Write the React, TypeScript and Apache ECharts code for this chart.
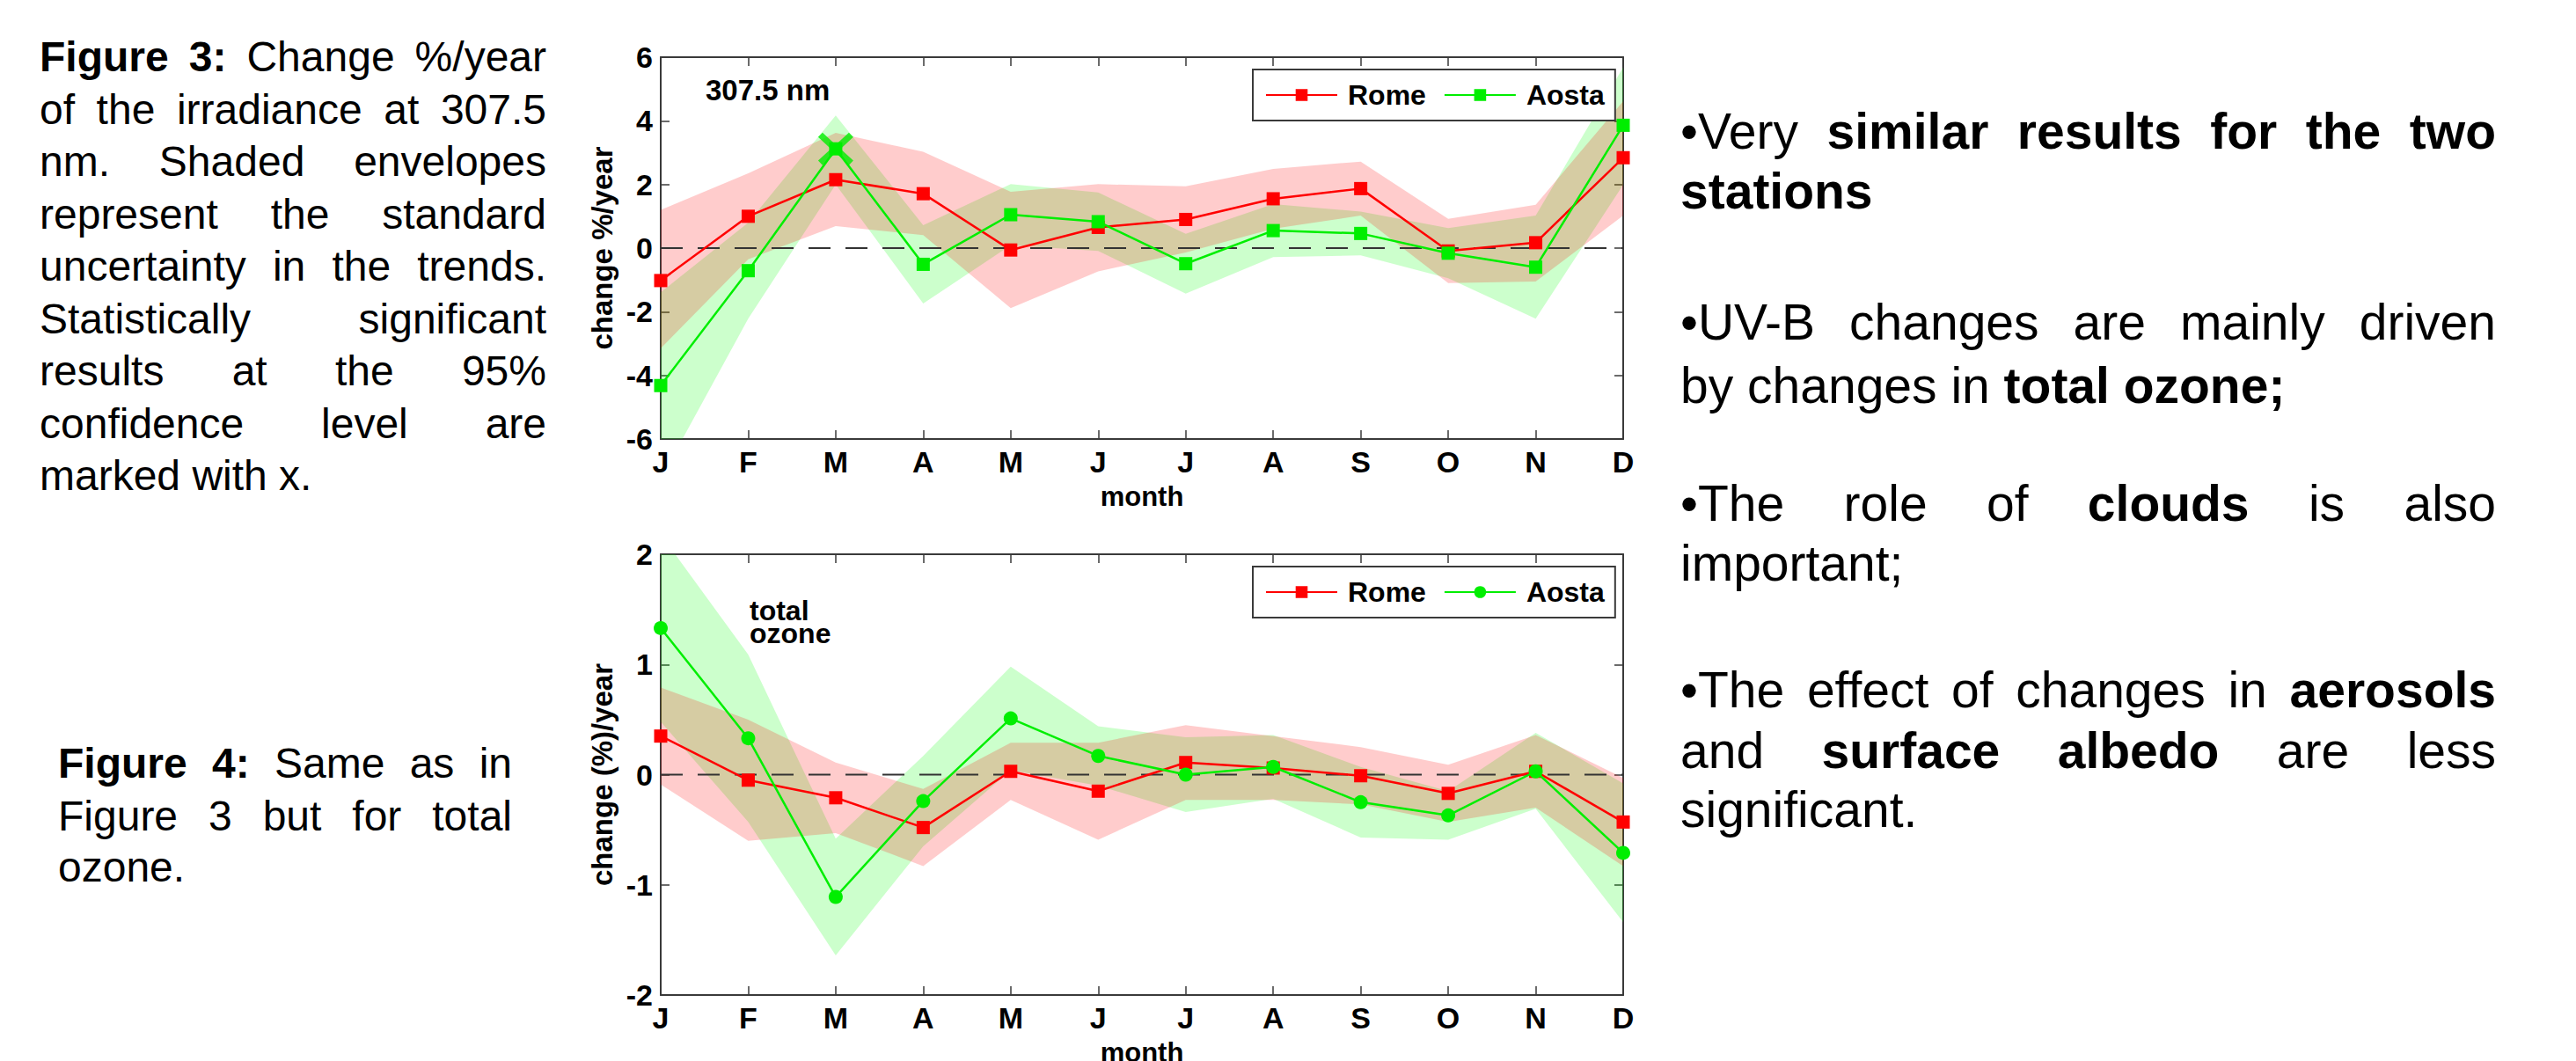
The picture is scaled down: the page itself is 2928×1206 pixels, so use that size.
import React, { useEffect, useRef } from 'react';
import * as echarts from 'echarts';

// ---------- data ----------
const months = ['J', 'F', 'M', 'A', 'M', 'J', 'J', 'A', 'S', 'O', 'N', 'D'];

// Figure 3: change %/year of irradiance at 307.5 nm
const romeUV = [-1.02, 1.0, 2.15, 1.71, -0.06, 0.65, 0.9, 1.55, 1.87, -0.09, 0.17, 2.84];
const romeUVLow = [-3.15, -0.35, 0.69, 0.41, -1.89, -0.73, -0.14, 0.61, 1.02, -1.1, -1.05, 1.02];
const romeUVHigh = [1.2, 2.35, 3.62, 3.03, 1.77, 2.01, 1.94, 2.49, 2.72, 0.92, 1.36, 4.62];
const aostaUV = [-4.32, -0.71, 3.12, -0.51, 1.05, 0.83, -0.49, 0.55, 0.46, -0.16, -0.6, 3.86];
const aostaUVLow = [-7.25, -2.22, 2.0, -1.74, 0.09, -0.09, -1.43, -0.28, -0.23, -0.95, -2.22, 1.99];
const aostaUVHigh = [-1.39, 0.8, 4.17, 0.72, 2.01, 1.75, 0.45, 1.38, 1.15, 0.63, 1.02, 5.68];
const aostaUVSignificant = [2]; // month indices marked with x

// Figure 4: change (%)/year of total ozone
const romeO3 = [0.35, -0.05, -0.21, -0.48, 0.03, -0.15, 0.11, 0.06, -0.01, -0.17, 0.03, -0.43];
const romeO3Low = [-0.09, -0.6, -0.53, -0.83, -0.23, -0.59, -0.23, -0.23, -0.27, -0.43, -0.3, -0.83];
const romeO3High = [0.79, 0.5, 0.11, -0.13, 0.29, 0.29, 0.45, 0.35, 0.25, 0.09, 0.36, -0.03];
const aostaO3 = [1.33, 0.33, -1.11, -0.24, 0.51, 0.17, 0.0, 0.07, -0.25, -0.37, 0.03, -0.71];
const aostaO3Low = [0.48, -0.43, -1.64, -0.65, 0.04, -0.1, -0.34, -0.22, -0.57, -0.59, -0.31, -1.34];
const aostaO3High = [2.18, 1.09, -0.58, 0.17, 0.98, 0.44, 0.34, 0.36, 0.07, -0.15, 0.38, -0.08];
const aostaO3Significant: number[] = [];

const zeroLevel = 0;

// ---------- styles ----------
const FONT = '"Liberation Sans", Arial, Helvetica, sans-serif';
const RED = '#ff0000';
const GREEN = '#00ee00';
const RED_BAND = 'rgba(255,0,0,0.2)';
const GREEN_BAND = 'rgba(0,255,0,0.2)';
const AXIS = '#3a3a3a';
const X_PATH = 'path://M0,5L5,0L20,13.5L35,0L40,5L25.5,18L40,31L35,36L20,22.5L5,36L0,31L14.5,18Z';

type Cfg = {
  yMin: number; yMax: number; yInterval: number; yName: string;
  rome: number[]; romeLo: number[]; romeHi: number[];
  aosta: number[]; aostaLo: number[]; aostaHi: number[];
  aostaSymbol: string; aostaSymbolSize: number; romeSymbolSize: number;
  sig: number[];
  gridTop: number; gridHeight: number; legendTop: number;
  graphic: any[];
};

function bandSeries(lo: number[], hi: number[], color: string) {
  return {
    type: 'custom',
    clip: true,
    silent: true,
    z: 1,
    data: [[0, lo[0]]],
    encode: { x: 0, y: 1 },
    renderItem: (_params: any, api: any) => {
      const pts: number[][] = [];
      for (let i = 0; i < hi.length; i++) pts.push(api.coord([i, hi[i]]));
      for (let i = lo.length - 1; i >= 0; i--) pts.push(api.coord([i, lo[i]]));
      return { type: 'polygon', shape: { points: pts }, style: { fill: color } };
    },
  };
}

function buildOption(c: Cfg) {
  const last = months.length - 1;
  const axisLine = { show: true, onZero: false, lineStyle: { color: AXIS, width: 2 } };
  const axisTick = { show: true, inside: true, length: 10, lineStyle: { color: AXIS, width: 1.5 } };
  const tickLabel = { color: '#000', fontSize: 34, fontWeight: 'bold', fontFamily: FONT };
  return {
    animation: false,
    grid: { left: 101, top: c.gridTop, width: 1094, height: c.gridHeight, containLabel: false, outerBoundsMode: 'none' },
    legend: {
      data: ['Rome', 'Aosta'],
      left: 774,
      top: c.legendTop,
      orient: 'horizontal',
      itemWidth: 81,
      itemHeight: 17,
      itemGap: 20,
      padding: [13, 12, 13, 14],
      borderColor: AXIS,
      borderWidth: 2,
      backgroundColor: '#fff',
      selectedMode: false,
      textStyle: { color: '#000', fontSize: 32, fontWeight: 'bold', fontFamily: FONT, padding: [0, 0, 0, 7] },
    },
    xAxis: [
      {
        type: 'value', min: 0, max: last, interval: 1, position: 'bottom',
        axisLine, axisTick, splitLine: { show: false },
        axisLabel: { ...tickLabel, margin: 9, showMinLabel: true, showMaxLabel: true, formatter: (v: number) => months[Math.round(v)] ?? '' },
        name: 'month', nameLocation: 'middle', nameGap: 50,
        nameTextStyle: { color: '#000', fontSize: 31, fontWeight: 'bold', fontFamily: FONT },
      },
      {
        type: 'value', min: 0, max: last, interval: 1, position: 'top',
        axisLine, axisTick, splitLine: { show: false }, axisLabel: { show: false },
      },
    ],
    yAxis: [
      {
        type: 'value', min: c.yMin, max: c.yMax, interval: c.yInterval, position: 'left',
        axisLine, axisTick, splitLine: { show: false },
        axisLabel: { ...tickLabel, margin: 9, showMinLabel: true, showMaxLabel: true },
        name: c.yName, nameLocation: 'middle', nameGap: 50, nameRotate: 90,
        nameTextStyle: { color: '#000', fontSize: 33, fontWeight: 'bold', fontFamily: FONT },
      },
      {
        type: 'value', min: c.yMin, max: c.yMax, interval: c.yInterval, position: 'right',
        axisLine, axisTick, splitLine: { show: false }, axisLabel: { show: false },
      },
    ],
    graphic: c.graphic,
    series: [
      bandSeries(c.aostaLo, c.aostaHi, GREEN_BAND),
      bandSeries(c.romeLo, c.romeHi, RED_BAND),
      {
        type: 'line', silent: true, z: 2, symbol: 'none',
        data: [[0, zeroLevel], [last, zeroLevel]],
        lineStyle: { color: '#333', width: 2, type: [25, 17] },
      },
      {
        name: 'Rome', type: 'line', z: 3,
        data: c.rome.map((v, i) => [i, v]),
        symbol: 'rect', symbolSize: c.romeSymbolSize,
        itemStyle: { color: RED },
        lineStyle: { color: RED, width: 2.5 },
      },
      {
        name: 'Aosta', type: 'line', z: 4,
        data: c.aosta.map((v, i) => [i, v]),
        symbol: c.aostaSymbol, symbolSize: c.aostaSymbolSize,
        itemStyle: { color: GREEN },
        lineStyle: { color: GREEN, width: 2.5 },
      },
      {
        type: 'scatter', z: 5, silent: true,
        data: c.sig.map((i) => [i, c.aosta[i]]),
        symbol: X_PATH, symbolSize: [40, 37],
        itemStyle: { color: GREEN },
      },
    ],
  };
}

const topCfg: Cfg = {
  yMin: -6, yMax: 6, yInterval: 2, yName: 'change %/year',
  rome: romeUV, romeLo: romeUVLow, romeHi: romeUVHigh,
  aosta: aostaUV, aostaLo: aostaUVLow, aostaHi: aostaUVHigh,
  aostaSymbol: 'rect', aostaSymbolSize: 15, romeSymbolSize: 15,
  sig: aostaUVSignificant,
  gridTop: 65, gridHeight: 434, legendTop: 79,
  graphic: [
    {
      type: 'text', x: 152, y: 102, silent: true,
      style: { text: '307.5 nm', fill: '#000', fontSize: 33, fontWeight: 'bold', fontFamily: FONT, verticalAlign: 'middle' },
    },
  ],
};

const bottomCfg: Cfg = {
  yMin: -2, yMax: 2, yInterval: 1, yName: 'change (%)/year',
  rome: romeO3, romeLo: romeO3Low, romeHi: romeO3High,
  aosta: aostaO3, aostaLo: aostaO3Low, aostaHi: aostaO3High,
  aostaSymbol: 'circle', aostaSymbolSize: 16, romeSymbolSize: 15,
  sig: aostaO3Significant,
  gridTop: 30, gridHeight: 501, legendTop: 44,
  graphic: [
    {
      type: 'text', x: 202, y: 81, silent: true,
      style: { text: 'total\nozone', fill: '#000', fontSize: 32, fontWeight: 'bold', fontFamily: FONT, verticalAlign: 'top', lineHeight: 26 },
    },
  ],
};

function Chart({ cfg, left, top, width, height }: { cfg: Cfg; left: number; top: number; width: number; height: number }) {
  const ref = useRef<HTMLDivElement>(null);
  useEffect(() => {
    if (!ref.current) return;
    const chart = echarts.init(ref.current, undefined, { renderer: 'svg' });
    chart.setOption(buildOption(cfg) as any);
    return () => chart.dispose();
  }, [cfg]);
  return <div ref={ref} style={{ position: 'absolute', left, top, width, height }} />;
}

type LineProps = { x: number; w: number; cy: number; lh: number; fs: number; justify?: boolean; children: React.ReactNode };
function TextLine({ x, w, cy, lh, fs, justify, children }: LineProps) {
  return (
    <div
      style={{
        position: 'absolute', left: x, top: cy - lh / 2, width: w, height: lh,
        lineHeight: `${lh}px`, fontSize: fs, fontFamily: FONT, color: '#000',
        textAlign: justify ? 'justify' : 'left', textAlignLast: justify ? 'justify' : 'left',
      } as React.CSSProperties}
    >
      {children}
    </div>
  );
}

export default function App() {
  const capX = 45, capW = 576, capFs = 48, capLh = 59.5, capY0 = 65;
  const cap3: [React.ReactNode, boolean][] = [
    [<><b>Figure 3:</b> Change %/year</>, true],
    ['of the irradiance at 307.5', true],
    ['nm. Shaded envelopes', true],
    ['represent the standard', true],
    ['uncertainty in the trends.', true],
    ['Statistically significant', true],
    ['results at the 95%', true],
    ['confidence level are', true],
    ['marked with x.', false],
  ];
  const cap4: [React.ReactNode, boolean][] = [
    [<><b>Figure 4:</b> Same as in</>, true],
    ['Figure 3 but for total', true],
    ['ozone.', false],
  ];
  const cap4Y = [868, 928, 986];
  const rX = 1910, rW = 927, rFs = 57, rLh = 68;
  const right: [React.ReactNode, boolean, number][] = [
    [<>•Very <b>similar results for the two</b></>, true, 149],
    [<b>stations</b>, false, 217],
    ['•UV-B changes are mainly driven', true, 366],
    [<>by changes in <b>total ozone;</b></>, false, 438],
    [<>•The role of <b>clouds</b> is also</>, true, 572],
    ['important;', false, 640],
    [<>•The effect of changes in <b>aerosols</b></>, true, 784],
    [<>and <b>surface albedo</b> are less</>, true, 853],
    ['significant.', false, 920],
  ];
  return (
    <div style={{ position: 'absolute', left: 0, top: 0, width: 2928, height: 1206, overflow: 'hidden', background: '#fff' }}>
      {cap3.map(([t, j], k) => (
        <TextLine key={'c3' + k} x={capX} w={capW} cy={capY0 + k * capLh} lh={capLh} fs={capFs} justify={j}>{t}</TextLine>
      ))}
      {cap4.map(([t, j], k) => (
        <TextLine key={'c4' + k} x={66} w={516} cy={cap4Y[k]} lh={capLh} fs={capFs} justify={j}>{t}</TextLine>
      ))}
      {right.map(([t, j, cy], k) => (
        <TextLine key={'r' + k} x={rX} w={rW} cy={cy} lh={rLh} fs={rFs} justify={j}>{t}</TextLine>
      ))}
      <Chart cfg={topCfg} left={650} top={0} width={1230} height={600} />
      <Chart cfg={bottomCfg} left={650} top={600} width={1230} height={606} />
    </div>
  );
}
